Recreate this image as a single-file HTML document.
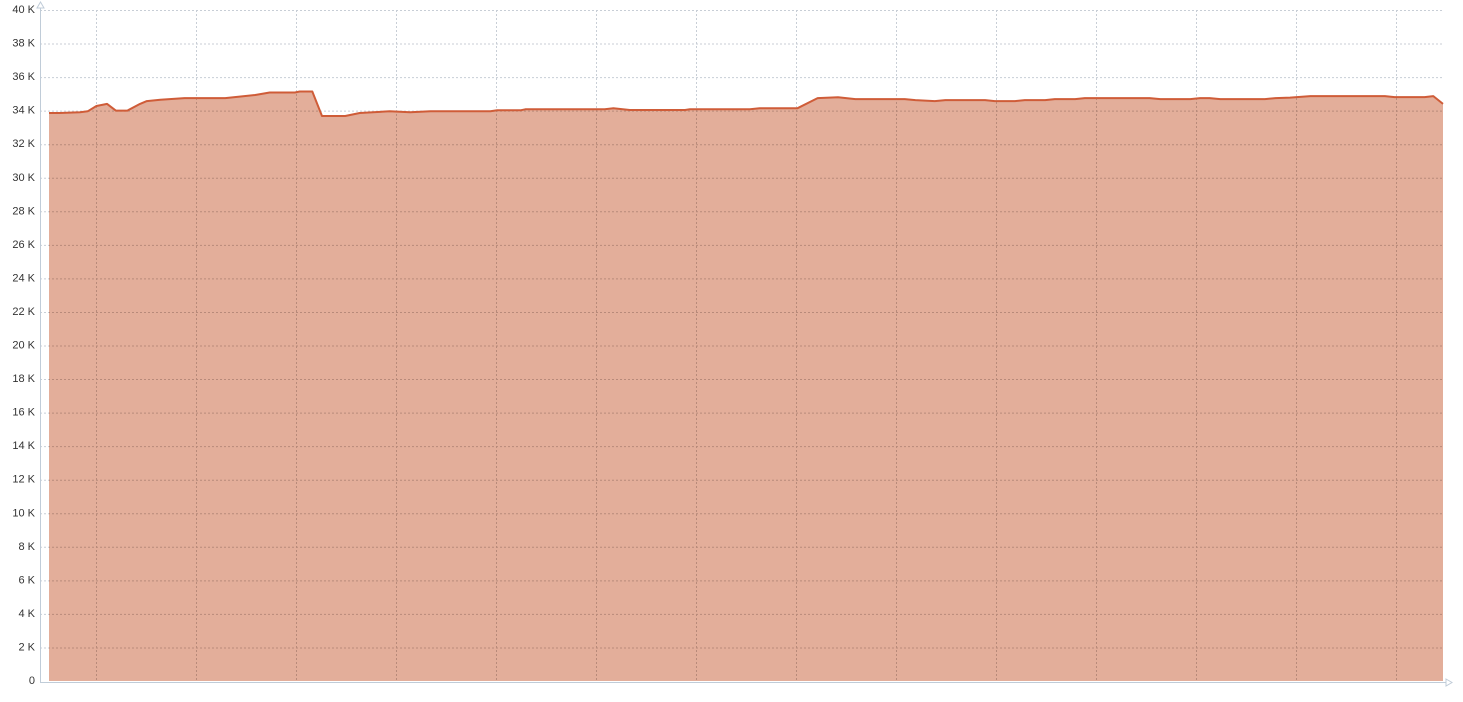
<!DOCTYPE html>
<html><head><meta charset="utf-8"><style>
html,body{margin:0;padding:0;background:#fff;width:1463px;height:702px;overflow:hidden}
svg{display:block;font-family:"Liberation Sans",sans-serif}
</style></head><body>
<svg id="chart" width="1463" height="702" viewBox="0 0 1463 702"></svg>
<script>
const yTicks=[0,2,4,6,8,10,12,14,16,18,20,22,24,26,28,30,32,34,36,38,40];
const yTickLabels=yTicks.map(v=>v===0?"0":v+" K");
const xGridTimes=[48.6,151.9,255.2,358.5,461.8,565.1,668.4,771.7,875,978.3,1081.6,1184.9,1288.2,1391.5];
const times=[0,11,32,40,49,60,69,81,94,101,115,140,182,213,228,254,259,272,282,306,321,352,373,394,456,463,487,492,574,583,600,657,662,724,734,773,794,815,833,884,895,915,926,967,977,998,1008,1029,1039,1060,1070,1137,1148,1179,1189,1199,1210,1256,1267,1282,1303,1380,1390,1421,1430,1440];
const values=[33.86,33.86,33.9,33.96,34.28,34.4,34.0,34.0,34.4,34.57,34.65,34.75,34.75,34.93,35.08,35.08,35.14,35.14,33.68,33.68,33.86,33.96,33.9,33.96,33.96,34.02,34.02,34.08,34.08,34.14,34.04,34.04,34.08,34.08,34.14,34.14,34.75,34.8,34.69,34.69,34.63,34.57,34.63,34.63,34.57,34.57,34.63,34.63,34.69,34.69,34.75,34.75,34.69,34.69,34.75,34.75,34.69,34.69,34.75,34.78,34.87,34.87,34.81,34.81,34.87,34.4];
const NS="http://www.w3.org/2000/svg";
const svg=document.getElementById('chart');
const X0=49,X1=1443,Y0=681,Y1=10;
const xs=t=>X0+(t-0)/(1440-0)*(X1-X0);
const ys=v=>Y0-v/40*(Y0-Y1);
function mk(tag,attrs,parent){const e=document.createElementNS(NS,tag);for(const k in attrs)e.setAttribute(k,attrs[k]);(parent||svg).appendChild(e);return e;}
const gridBack=mk('g',{});


yTicks.forEach(v=>{if(v===0)return;const l=mk('line',{x1:40,x2:1443,y1:ys(v)+.5,y2:ys(v)+.5,stroke:'#c8ced6','stroke-dasharray':'2,2'},gridBack);

});
xGridTimes.forEach(t=>{const x=Math.round(xs(t))+.5;const l=mk('line',{x1:x,x2:x,y1:10,y2:681,stroke:'#c8ced6','stroke-dasharray':'2,2'},gridBack);

});
let d='M'+xs(times[0])+','+Y0;
times.forEach((t,i)=>{d+=' L'+xs(t).toFixed(1)+','+ys(values[i]).toFixed(1);});
d+=' L'+xs(times[times.length-1])+','+Y0+' Z';
const area=mk('path',{d:d,fill:'#e3ae9a'});


const gridFront=mk('g',{});


const clip=mk('clipPath',{id:'ac'});mk('path',{d:d},clip);
yTicks.forEach(v=>{if(v===0)return;mk('line',{x1:40,x2:1443,y1:ys(v)+.5,y2:ys(v)+.5,stroke:'#b88a7a','stroke-dasharray':'2,2','clip-path':'url(#ac)'},gridFront);});
xGridTimes.forEach(t=>{const x=Math.round(xs(t))+.5;mk('line',{x1:x,x2:x,y1:10,y2:681,stroke:'#b88a7a','stroke-dasharray':'2,2','clip-path':'url(#ac)'},gridFront);});
let ld='';times.forEach((t,i)=>{ld+=(i?' L':'M')+xs(t).toFixed(1)+','+ys(values[i]).toFixed(1);});
const line=mk('path',{d:ld,fill:'none',stroke:'#cf5c38','stroke-width':2,'stroke-linejoin':'round'});


const ya=mk('line',{x1:40.5,x2:40.5,y1:5,y2:682,stroke:'#c0ccd8'});


mk('path',{d:'M37,8 L40.5,2 L44,8 Z',fill:'#fff',stroke:'#c0ccd8'});
const xa=mk('line',{x1:40,x2:1447,y1:682.5,y2:682.5,stroke:'#c0ccd8'});


mk('path',{d:'M1446,679 L1452,682.5 L1446,686 Z',fill:'#fff',stroke:'#c0ccd8'});
yTicks.forEach((v,i)=>{const t=mk('text',{x:35,y:ys(v)+3,'text-anchor':'end','font-size':11,fill:'#333'});t.textContent=yTickLabels[i];

});
</script>
</body></html>
